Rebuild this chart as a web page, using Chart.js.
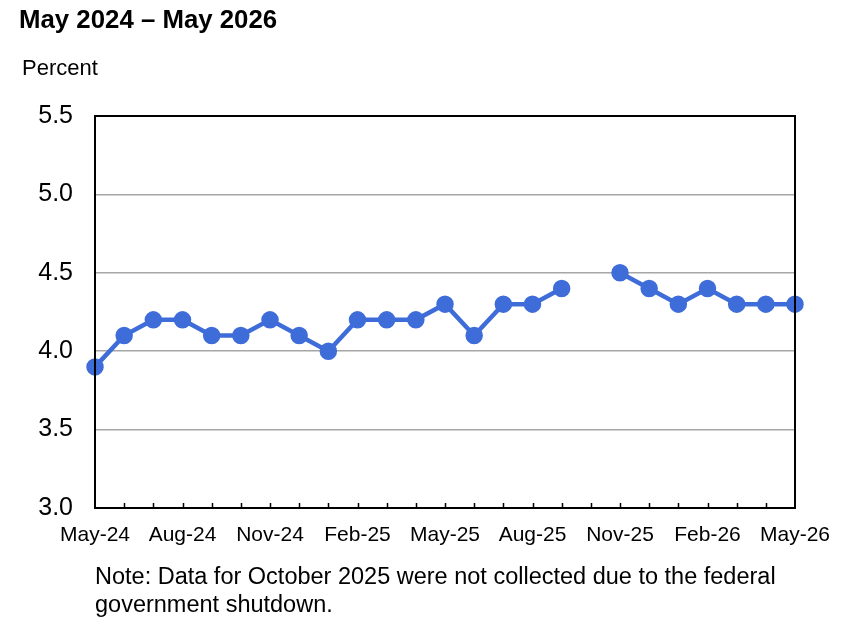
<!DOCTYPE html>
<html>
<head>
<meta charset="utf-8">
<script src="https://cdn.jsdelivr.net/npm/chart.js@4"></script>
<style>
  html, body { margin: 0; padding: 0; background: #fff; }
  #wrap { position: relative; width: 849px; height: 644px; font-family: "Liberation Sans", Arial, sans-serif; }
  #chart { position: absolute; left: 0; top: 0; }
  .title { position: absolute; left: 19px; top: 5px; font-size: 25.8px; font-weight: bold; color: #000; }
  .unit { position: absolute; left: 22px; top: 55px; font-size: 22px; color: #000; }
  .note { position: absolute; left: 95px; top: 562px; font-size: 23.5px; line-height: 28px; color: #000; }
</style>
</head>
<body>
<div id="wrap">
  <canvas id="chart" width="849" height="644"></canvas>
  <div class="title">May 2024 – May 2026</div>
  <div class="unit">Percent</div>
  <div class="note">Note: Data for October 2025 were not collected due to the federal<br>government shutdown.</div>
</div>
<script>
// months shown on the x axis
const months = ['May-24', 'Jun-24', 'Jul-24', 'Aug-24', 'Sep-24', 'Oct-24', 'Nov-24', 'Dec-24',
  'Jan-25', 'Feb-25', 'Mar-25', 'Apr-25', 'May-25', 'Jun-25', 'Jul-25', 'Aug-25', 'Sep-25',
  'Oct-25', 'Nov-25', 'Dec-25', 'Jan-26', 'Feb-26', 'Mar-26', 'Apr-26', 'May-26'];
// unemployment rate, Oct-25 not collected
const rate = [3.9, 4.1, 4.2, 4.2, 4.1, 4.1, 4.2, 4.1, 4.0, 4.2, 4.2, 4.2, 4.3, 4.1, 4.3, 4.3, 4.4,
  null, 4.5, 4.4, 4.3, 4.4, 4.3, 4.3, 4.3];
const yTicks = [3.0, 3.5, 4.0, 4.5, 5.0, 5.5];

// frame round the plot plus small inward month ticks on the bottom axis
const framePlugin = {
  id: 'frame',
  afterDatasetsDraw(chart) {
    const { ctx, chartArea: a, scales: { x } } = chart;
    ctx.save();
    ctx.strokeStyle = '#000';
    ctx.lineWidth = 2;
    ctx.strokeRect(a.left, a.top, a.right - a.left, a.bottom - a.top);
    ctx.lineWidth = 1.5;
    ctx.beginPath();
    for (let i = 1; i < months.length - 1; i++) {
      const px = Math.round(x.getPixelForValue(i)) + 0.5;
      ctx.moveTo(px, a.bottom);
      ctx.lineTo(px, a.bottom - 5);
    }
    ctx.stroke();
    ctx.restore();
  }
};

new Chart(document.getElementById('chart'), {
  type: 'line',
  data: {
    labels: months,
    datasets: [{
      data: rate,
      borderColor: '#3e6cd8',
      backgroundColor: '#3e6cd8',
      borderWidth: 4.5,
      pointRadius: 6.5,
      pointHoverRadius: 6.5,
      spanGaps: false,
      tension: 0
    }]
  },
  options: {
    responsive: false,
    animation: false,
    layout: { padding: { left: 0, right: 54, top: 116, bottom: 0 } },
    plugins: { legend: { display: false }, tooltip: { enabled: false } },
    scales: {
      x: {
        offset: false,
        grid: { display: false, drawTicks: false },
        border: { display: false },
        afterFit: s => { s.height = 136; },
        ticks: {
          autoSkip: false,
          maxRotation: 0,
          padding: 15,
          color: '#000',
          font: { family: '"Liberation Sans", Arial', size: 21 },
          callback: (v, i) => (i % 3 === 0 ? months[i] : '')
        }
      },
      y: {
        min: 3.0,
        max: 5.5,
        afterFit: s => { s.width = 95; },
        afterBuildTicks: s => { s.ticks = yTicks.map(v => ({ value: v })); },
        grid: { color: '#a6a6a6', lineWidth: 1.5, drawTicks: false },
        border: { display: false },
        ticks: {
          padding: 22,
          color: '#000',
          font: { family: '"Liberation Sans", Arial', size: 25 },
          callback: v => v.toFixed(1)
        }
      }
    }
  },
  plugins: [framePlugin]
});
</script>
</body>
</html>
